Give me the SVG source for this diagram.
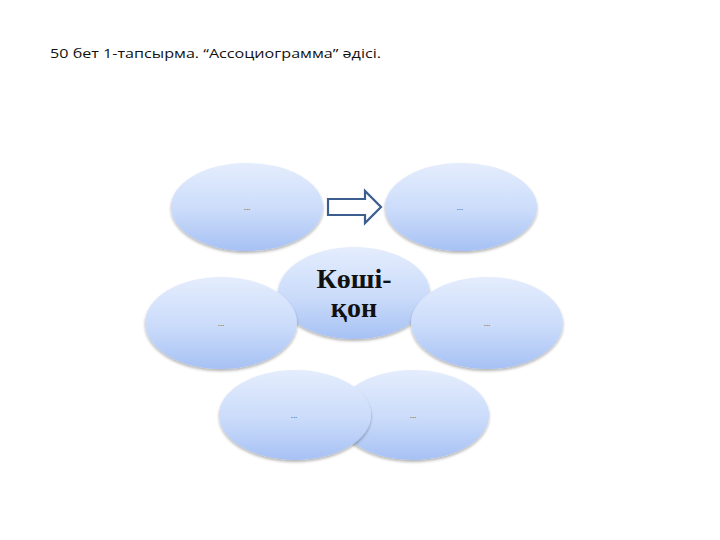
<svg xmlns="http://www.w3.org/2000/svg" width="720" height="540" viewBox="0 0 720 540">
<defs>
<linearGradient id="g" x1="0" y1="0" x2="0" y2="1">
<stop offset="0" stop-color="#e4edfd"/>
<stop offset="0.55" stop-color="#cadbfa"/>
<stop offset="1" stop-color="#a6c1f4"/>
</linearGradient>
<filter id="sh" x="-20%" y="-20%" width="140%" height="150%">
<feGaussianBlur in="SourceAlpha" stdDeviation="1.5"/>
<feOffset dx="0" dy="2" result="b"/>
<feComponentTransfer><feFuncA type="linear" slope="0.3"/></feComponentTransfer>
<feMerge><feMergeNode/><feMergeNode in="SourceGraphic"/></feMerge>
</filter>
</defs>
<style>
.e{fill:url(#g);filter:url(#sh)}
.d{font-family:"Liberation Sans",Arial,sans-serif;font-size:8px;fill:#333;text-anchor:middle}
.c{font-family:"Liberation Serif","Times New Roman",serif;font-size:28px;font-weight:bold;fill:#111;text-anchor:middle}
.t{font-family:"Open Sans","Liberation Sans",sans-serif;font-size:13.5px;fill:#111}
</style>
<rect width="720" height="540" fill="#fff"/>
<text class="t" x="50" y="58" textLength="331" lengthAdjust="spacingAndGlyphs">50 бет 1-тапсырма. “Ассоциограмма” әдісі.</text>
<g id="n-top-left"><ellipse class="e" cx="247" cy="207" rx="76" ry="44"/><text class="d" x="247" y="210">...</text></g>
<g id="n-top-right"><ellipse class="e" cx="461" cy="207" rx="76" ry="44"/><text class="d" x="460" y="210">...</text></g>
<g id="n-center"><ellipse class="e" cx="354" cy="293" rx="76" ry="46"/><text class="c" x="354" y="288">Көші-</text><text class="c" x="354" y="317">қон</text></g>
<g id="n-mid-left"><ellipse class="e" cx="221" cy="323" rx="76" ry="46"/><text class="d" x="221" y="326">...</text></g>
<g id="n-mid-right"><ellipse class="e" cx="487" cy="323" rx="76" ry="46"/><text class="d" x="487" y="326">...</text></g>
<g id="n-bottom-right"><ellipse class="e" cx="413" cy="415" rx="76" ry="45"/><text class="d" x="413" y="418">...</text></g>
<g id="n-bottom-left"><ellipse class="e" cx="295" cy="415" rx="76" ry="45"/><text class="d" x="294" y="418">...</text></g>
<g id="connectors"><path d="M328,199 H365 V191 L381,207 L365,223 V215 H328 Z" fill="#fff" stroke="#3b5e8e" stroke-width="2.2" stroke-linejoin="miter"/></g>
</svg>
